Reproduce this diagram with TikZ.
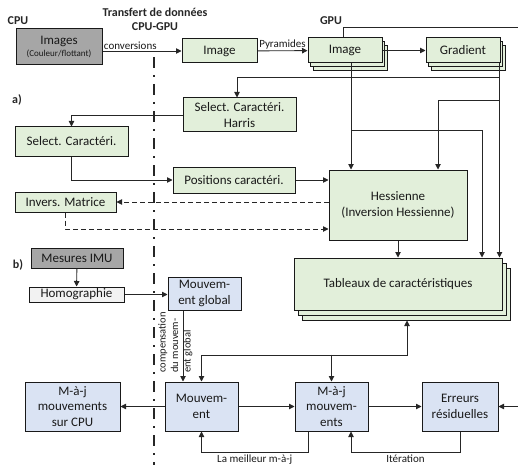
\documentclass[tikz,border=0pt]{standalone}
\usepackage{fontspec}
\setmainfont{Carlito}
\usetikzlibrary{arrows.meta,shadows,positioning}

\definecolor{vertclair}{HTML}{E2EFDA}
\definecolor{bleuclair}{HTML}{DAE3F3}
\definecolor{grisfonce}{HTML}{A6A6A6}
\definecolor{grisclair}{HTML}{F2F2F2}

\tikzset{
  boite/.style={rectangle, draw=black!90, line width=1pt, text=black!90, align=center, inner sep=0pt},
  gpubox/.style={boite, fill=vertclair},
  mvtbox/.style={boite, fill=bleuclair},
  pile/.style={
    copy shadow={shadow xshift=5pt, shadow yshift=-8pt, fill=vertclair, draw=black!90, line width=1pt},
    copy shadow={shadow xshift=2.5pt, shadow yshift=-4pt, fill=vertclair, draw=black!90, line width=1pt}},
  grandepile/.style={
    copy shadow={shadow xshift=8pt, shadow yshift=-10pt, fill=vertclair, draw=black!90, line width=1pt},
    copy shadow={shadow xshift=4pt, shadow yshift=-5pt, fill=vertclair, draw=black!90, line width=1pt}},
  petit/.style={font=\fontsize{11}{12.5}\selectfont, text=black!90},
  titre/.style={font=\fontsize{12}{14}\selectfont\bfseries, align=center},
  tirets/.style={dash pattern=on 5pt off 3pt},
}

\begin{document}
\begin{tikzpicture}[x=1pt, y=-1pt, >={Triangle[length=5.5pt,width=5.5pt]},
  font=\fontsize{13}{15.5}\selectfont, line width=0.9pt, color=black!85]
  \useasboundingbox (0,0) rectangle (518,465);

  \node[titre] (cpu) at (18,21) {CPU};
  \node[titre] (transfert) at (155,19) {Transfert de données\\CPU-GPU};
  \node[titre] (gpu) at (331,21) {GPU};
  \node[titre] (a) at (17,100) {a)};
  \node[titre] (b) at (18,265) {b)};

  \coordinate (haut) at (154,57);
  \coordinate (bas) at (154,465);
  \draw[line width=2pt, dash pattern=on 11pt off 7pt on 2pt off 7pt] (haut) -- (bas);

  \node[boite, fill=grisfonce, minimum width=86pt, minimum height=36pt] (images) at (59,47)
    {Images\\[-3pt]{\fontsize{9}{10}\selectfont(Couleur/flottant)}};
  \node[gpubox, minimum width=75pt, minimum height=24pt] (image) at (219.5,51) {Image};
  \node[gpubox, pile, minimum width=74pt, minimum height=25pt] (pyramide) at (345,50.5) {Image};
  \node[gpubox, pile, minimum width=74pt, minimum height=25pt] (gradient) at (463,50.5) {Gradient};
  \node[gpubox, minimum width=113pt, minimum height=34pt] (harris) at (239.5,115) {Select. Caractéri.\\Harris};
  \node[gpubox, minimum width=113pt, minimum height=29pt] (select) at (71.5,141.5) {Select. Caractéri.};
  \node[gpubox, minimum width=122pt, minimum height=26pt] (positions) at (234,180) {Positions caractéri.};
  \node[gpubox, minimum width=138pt, minimum height=70pt] (hessienne) at (398,205) {Hessienne\\(Inversion Hessienne)};
  \node[gpubox, minimum width=101pt, minimum height=20pt] (inverse) at (65.5,202) {Invers. Matrice};
  \node[gpubox, grandepile, minimum width=208pt, minimum height=52pt] (tableaux) at (398,284)
    {Tableaux de caractéristiques};

  \node[boite, fill=grisfonce, minimum width=92pt, minimum height=20pt] (imu) at (77,258) {Mesures IMU};
  \node[boite, fill=grisclair, minimum width=95pt, minimum height=15pt] (homographie) at (76.5,294.5) {Homographie};
  \node[mvtbox, minimum width=73pt, minimum height=33pt] (global) at (204.5,293.5) {Mouvem-\\ent global};
  \node[mvtbox, minimum width=73pt, minimum height=49pt] (mouvement) at (201.5,406.5) {Mouvem-\\ent};
  \node[mvtbox, minimum width=95pt, minimum height=49pt] (majcpu) at (72.5,406.5) {M-à-j\\mouvements\\sur CPU};
  \node[mvtbox, minimum width=73pt, minimum height=49pt] (maj) at (331.5,406.5) {M-à-j\\mouvem-\\ents};
  \node[mvtbox, minimum width=76pt, minimum height=49pt] (erreurs) at (460,406.5) {Erreurs\\résiduelles};
  \node[petit, font=\fontsize{10.5}{12.5}\selectfont, rotate=90, align=left] (compensation) at (175.5,342.5)
    {compensation\\du mouvem-\\ent global};

  \draw[->] (images.east |- image) -- (image)
    node[petit, pos=0, anchor=south west, inner sep=1pt] (conv) {conversions};
  \draw[->] (image) -- (pyramide) node[petit, midway, above, inner sep=1pt] (pyr) {Pyramides};
  \coordinate (gpubord) at (518,27);
  \draw ([xshift=-2pt]pyramide.north) |- (gpubord);

  \coordinate (g) at ([xshift=-1pt]gradient.south east);
  \draw[->] (pyramide) -- (gradient);
  \draw[->] (g) -- ++(0,14) -| ([xshift=-2.5pt]harris.north);
  \draw[->] (g) -- ++(0,37) -| ([xshift=40pt]hessienne.north);
  \draw[->] (g) -- (g |- tableaux.north);
  \draw[->] ([xshift=6pt]pyramide.south) -- ([xshift=6pt]pyramide.south |- hessienne.north);
  \draw[->] ([xshift=6pt]pyramide.south) -- ++(0,67) -| ([xshift=84pt]tableaux.north);
  \draw[->] (hessienne) -- (tableaux);

  \draw[->] (harris) -| (select);
  \draw[->] (select) |- (positions);
  \draw[->] (positions) -- (positions -| hessienne.west);
  \draw[->, tirets] (hessienne.west |- inverse) -- (inverse);
  \draw[->, tirets] (inverse) |- ([yshift=-24pt]hessienne.west);

  \draw[->] (imu) -- (homographie);
  \draw[->] (homographie) -- (homographie -| global.west);
  \draw[->] ([xshift=-21.5pt]global.south) -- ([xshift=-21.5pt]global.south |- mouvement.north);
  \draw[<->] (mouvement) |- ([xshift=9pt,yshift=-45pt]tableaux.south) -- ([xshift=9pt,yshift=-10pt]tableaux.south);
  \draw[->] ([yshift=27pt]maj.north) -- (maj.north);
  \draw[->] (mouvement) -- (majcpu);
  \draw[->] (mouvement) -- (maj);
  \draw[->] (maj) -- (erreurs);
  \coordinate (entree) at (518,406.5);
  \draw[->] (entree) -- (erreurs);
  \draw[->] ([xshift=-23.5pt]maj.south) -- ++(0,21) -| (mouvement.south)
    node[petit, pos=0.25, below, inner sep=2pt] (meilleur) {La meilleur m-à-j};
  \draw[->] (erreurs.south) -- ++(0,21) -| ([xshift=19.5pt]maj.south)
    node[petit, pos=0.25, below, inner sep=2pt] (iteration) {Itération};
\end{tikzpicture}
\end{document}
